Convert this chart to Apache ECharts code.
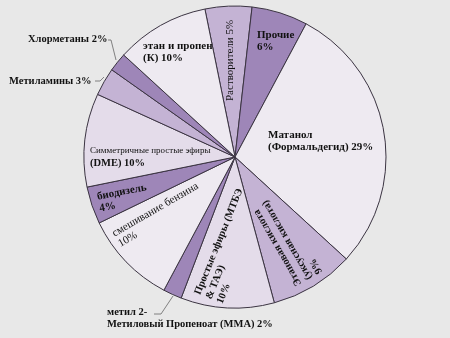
<!DOCTYPE html>
<html>
<head>
<meta charset="utf-8">
<script src="https://cdn.jsdelivr.net/npm/echarts@6/dist/echarts.min.js"></script>
<style>
  html, body { margin: 0; padding: 0; background: #e8e8e8; }
  #chart { width: 450px; height: 338px; }
</style>
</head>
<body>
<div id="chart"></div>
<script>
// Uses of methanol, share of total demand (%), clockwise from the top
const categories = [
  'Растворители',
  'Прочие',
  'Матанол (Формальдегид)',
  'Этановая кислота (уксусная кислота)',
  'Простые эфиры (МТБЭ & ТАЭ)',
  'метил 2-Метиловый Пропеноат (ММА)',
  'смешивание бензина',
  'биодизель',
  'Симметричные простые эфиры (DME)',
  'Метиламины',
  'Хлорметаны',
  'этан и пропен (К)'
];
const shares = [5, 6, 29, 9, 10, 2, 10, 4, 10, 3, 2, 10];

// Label wording per slice; {v} is replaced by the slice's share
const labelTexts = [
  'Растворители {v}%',
  'Прочие\n{v}%',
  'Матанол\n(Формальдегид) {v}%',
  'Этановая кислота\n(уксусная кислота)\n{v}%',
  'Простые эфиры (МТБЭ\n& ТАЭ)\n{v}%',
  'метил 2-\nМетиловый Пропеноат (ММА) {v}%',
  'смешивание бензина\n{v}%',
  'биодизель\n{v}%',
  '{s|Симметричные простые эфиры}\n(DME) {v}%',
  'Метиламины {v}%',
  'Хлорметаны {v}%',
  'этан и пропен\n(К) {v}%'
];
const outsideLabels = [5, 9, 10];

const DARK = '#9e86b8', MID = '#c4b3d4', LIGHT = '#e4dcea', PALE = '#eeeaf1';
const sliceColors = [MID, DARK, PALE, MID, LIGHT, DARK, PALE, DARK, LIGHT, MID, DARK, PALE];
const labelWeights = ['normal', 'bold', 'bold', 'bold', 'bold', 'bold', 'normal', 'bold', 'bold', 'bold', 'bold', 'bold'];
const labelSizes = [11, 11, 11, 10.5, 10.5, 10.5, 11, 11, 10.5, 10.5, 10.5, 11];

// Label anchor (top-left of the text block), rotation and leader line
const labelPlacement = [
  { x: 224, y: 101, rotate: 90 },
  { x: 257, y: 29, rotate: 0 },
  { x: 268, y: 129, rotate: 0 },
  { x: 294, y: 288, rotate: 120 },
  { x: 192, y: 292, rotate: 68 },
  { x: 107, y: 306, rotate: 0, line: [[173, 296], [161, 314], [154, 314]] },
  { x: 110, y: 229, rotate: 30 },
  { x: 96, y: 191, rotate: 11 },
  { x: 90, y: 145, rotate: 0 },
  { x: 9, y: 75, rotate: 0, line: [[104, 77], [100, 81], [95, 81]] },
  { x: 28, y: 33, rotate: 0, line: [[116, 60], [111, 40], [108, 40]] },
  { x: 143, y: 40, rotate: 0 }
];

const chart = echarts.init(document.getElementById('chart'), null, { renderer: 'canvas' });

const data = categories.map((name, i) => {
  const outside = outsideLabels.includes(i);
  return {
    name,
    value: shares[i],
    itemStyle: { color: sliceColors[i] },
    label: {
      position: outside ? 'outside' : 'inside',
      fontWeight: labelWeights[i],
      fontSize: labelSizes[i]
    },
    labelLine: { show: outside }
  };
});

chart.setOption({
  backgroundColor: '#e8e8e8',
  animation: false,
  series: [{
    type: 'pie',
    center: [235, 157],
    radius: 151,
    startAngle: 101.5,
    clockwise: true,
    avoidLabelOverlap: false,
    data,
    itemStyle: { borderColor: '#3b3442', borderWidth: 1 },
    label: {
      show: true,
      color: '#111',
      fontFamily: 'Liberation Serif',
      fontSize: 11,
      lineHeight: 12,
      formatter: p => labelTexts[p.dataIndex].replace('{v}', p.value),
      rich: {
        s: { fontSize: 9, fontWeight: 'normal', fontFamily: 'Liberation Serif', color: '#111', lineHeight: 12 }
      }
    },
    labelLine: { show: false, lineStyle: { color: '#666', width: 0.8 } },
    labelLayout: params => {
      const p = labelPlacement[params.dataIndex];
      const out = { x: p.x, y: p.y, rotate: p.rotate, align: 'left', verticalAlign: 'top' };
      if (p.line) out.labelLinePoints = p.line;
      return out;
    }
  }]
});
</script>
</body>
</html>
